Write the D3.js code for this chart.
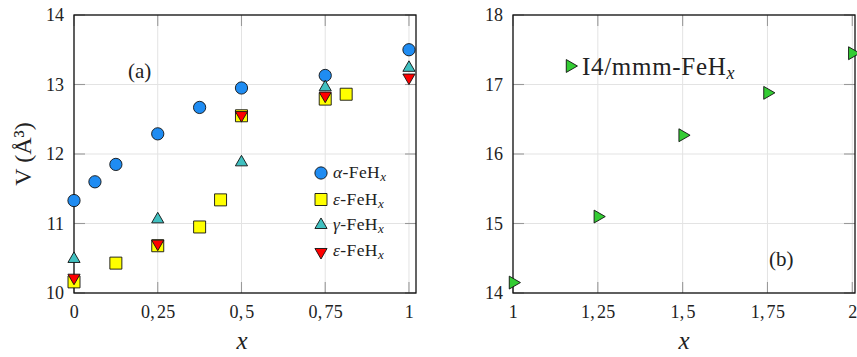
<!DOCTYPE html>
<html>
<head>
<meta charset="utf-8">
<script src="https://cdn.jsdelivr.net/npm/d3@7"></script>
<style>
  html, body { margin: 0; padding: 0; background: #fff; }
  svg { display: block; }
  svg text { font-family: "Liberation Serif", "DejaVu Serif", serif !important; }
</style>
</head>
<body>
<svg id="chart" width="857" height="357"></svg>
<script>
// ---- data ----
// panel (a): volume per Fe atom vs hydrogen content x
const alphaX = [0, 0.0625, 0.125, 0.25, 0.375, 0.5, 0.75, 1];
const alphaV = [11.33, 11.6, 11.85, 12.29, 12.67, 12.95, 13.13, 13.5];

const epsX = [0, 0.125, 0.25, 0.375, 0.4375, 0.5, 0.75, 0.8125];
const epsV = [10.16, 10.43, 10.68, 10.95, 11.34, 12.55, 12.79, 12.86];

const gammaX = [0, 0.25, 0.5, 0.75, 1];
const gammaV = [10.49, 11.06, 11.88, 12.96, 13.24];

const eps2X = [0, 0.25, 0.5, 0.75, 1];
const eps2V = [10.22, 10.71, 12.56, 12.84, 13.1];

// panel (b): I4/mmm phase
const i4X = [1, 1.25, 1.5, 1.75, 2];
const i4V = [14.15, 15.1, 16.27, 16.88, 17.45];

// axis ticks
const ticksXa = [0, 0.25, 0.5, 0.75, 1];
const tickLabelsXa = ["0", "0,\u200A25", "0,\u200A5", "0,\u200A75", "1"];
const ticksYa = [10, 11, 12, 13, 14];
const ticksXb = [1, 1.25, 1.5, 1.75, 2];
const tickLabelsXb = ["1", "1,\u200A25", "1,\u200A5", "1,\u200A75", "2"];
const ticksYb = [14, 15, 16, 17, 18];

// ---- layout ----
const svg = d3.select("#chart");
svg.append("rect").attr("width", 857).attr("height", 357).attr("fill", "#fff");

const plotTop = 15, plotBottom = 293;
const xA = d3.scaleLinear().domain([0, 1.021]).range([74, 416]);
const yA = d3.scaleLinear().domain([10, 14]).range([plotBottom, plotTop]);
const xB = d3.scaleLinear().domain([1, 2.008]).range([513, 855]);
const yB = d3.scaleLinear().domain([14, 18]).range([plotBottom, plotTop]);

const colors = {
  alpha: "#1f8cf2",
  eps: "#ffff00",
  gamma: "#40c0c0",
  eps2: "#ff0000",
  i4: "#33cc33"
};

// marker shapes
const sym = {
  circle: d3.symbol().type(d3.symbolCircle).size(118)(),
  square: d3.symbol().type(d3.symbolSquare).size(144)(),
  tri: d3.symbol().type(d3.symbolTriangle).size(64)(),
  triR: d3.symbol().type(d3.symbolTriangle).size(72)()
};

function drawFrame(g, x, y, xt, xl, yt) {
  const [x0, x1] = x.range();
  // grid
  g.selectAll(".gx").data(xt).join("line").attr("class", "gx")
    .attr("x1", d => x(d)).attr("x2", d => x(d))
    .attr("y1", plotTop).attr("y2", plotBottom)
    .attr("stroke", "#e3e3e3").attr("stroke-width", 1);
  g.selectAll(".gy").data(yt).join("line").attr("class", "gy")
    .attr("x1", x0).attr("x2", x1)
    .attr("y1", d => y(d)).attr("y2", d => y(d))
    .attr("stroke", "#e3e3e3").attr("stroke-width", 1);

  // inward ticks on all four sides
  const tl = 11, tc = "#9a9a9a";
  xt.forEach(d => {
    g.append("line").attr("x1", x(d)).attr("x2", x(d)).attr("y1", plotBottom).attr("y2", plotBottom - tl)
      .attr("stroke", tc).attr("stroke-width", 1.1);
    g.append("line").attr("x1", x(d)).attr("x2", x(d)).attr("y1", plotTop).attr("y2", plotTop + tl)
      .attr("stroke", tc).attr("stroke-width", 1.1);
  });
  yt.forEach(d => {
    g.append("line").attr("x1", x0).attr("x2", x0 + tl).attr("y1", y(d)).attr("y2", y(d))
      .attr("stroke", tc).attr("stroke-width", 1.1);
    g.append("line").attr("x1", x1).attr("x2", x1 - tl).attr("y1", y(d)).attr("y2", y(d))
      .attr("stroke", tc).attr("stroke-width", 1.1);
  });

  // tick labels via d3 axes
  const ax = g.append("g").attr("transform", `translate(0,${plotBottom})`)
    .call(d3.axisBottom(x).tickValues(xt).tickFormat((d, i) => xl[i]).tickSize(0).tickPadding(12));
  const ay = g.append("g").attr("transform", `translate(${x0},0)`)
    .call(d3.axisLeft(y).tickValues(yt).tickFormat(d3.format("d")).tickSize(0).tickPadding(10));
  [ax, ay].forEach(a => {
    a.select(".domain").remove();
    a.attr("font-family", null);
    a.selectAll("text").attr("font-size", 18).attr("fill", "#222");
  });
  ax.selectAll("text").attr("letter-spacing", 0.3);

  // box
  g.append("rect").attr("x", x0).attr("y", plotTop)
    .attr("width", x1 - x0).attr("height", plotBottom - plotTop)
    .attr("fill", "none").attr("stroke", "#111").attr("stroke-width", 1.3);
}

function drawSeries(g, xs, vs, x, y, path, fill, rot) {
  g.selectAll(null).data(xs).join("path")
    .attr("d", path)
    .attr("transform", (d, i) => `translate(${x(d)},${y(vs[i])}) rotate(${rot || 0})`)
    .attr("fill", fill).attr("stroke", "#111").attr("stroke-width", 0.9);
}

// ---- panel (a) ----
const gA = svg.append("g");
drawFrame(gA, xA, yA, ticksXa, tickLabelsXa, ticksYa);
const mA = svg.append("g");
drawSeries(mA, alphaX, alphaV, xA, yA, sym.circle, colors.alpha, 0);
drawSeries(mA, epsX, epsV, xA, yA, sym.square, colors.eps, 0);
drawSeries(mA, gammaX, gammaV, xA, yA, sym.tri, colors.gamma, 0);
drawSeries(mA, eps2X, eps2V, xA, yA, sym.tri, colors.eps2, 180);

svg.append("text").attr("x", 128).attr("y", 78).attr("font-size", 21).attr("fill", "#222").text("(a)");

// legend (a)
const legA = [
  { sym: sym.circle, fill: colors.alpha, rot: 0, g: "\u03B1" },
  { sym: sym.square, fill: colors.eps, rot: 0, g: "\u03B5" },
  { sym: sym.tri, fill: colors.gamma, rot: 0, g: "\u03B3" },
  { sym: sym.tri, fill: colors.eps2, rot: 180, g: "\u03B5" }
];
const legRows = [173, 199.5, 225, 251];
legA.forEach((d, i) => {
  const yy = legRows[i];
  svg.append("path").attr("d", d.sym)
    .attr("transform", `translate(321,${yy + (d.rot === 180 ? 1 : 0)}) rotate(${d.rot})`)
    .attr("fill", d.fill).attr("stroke", "#111").attr("stroke-width", 0.9);
  const t = svg.append("text").attr("x", 333).attr("y", yy + 5)
    .attr("font-size", 17.5).attr("letter-spacing", 0.4).attr("fill", "#222");
  t.append("tspan").attr("font-style", "italic").text(d.g);
  t.append("tspan").text("-FeH");
  t.append("tspan").attr("font-style", "italic").attr("font-size", 13).attr("dy", 3).text("x");
});

// ---- panel (b) ----
const gB = svg.append("g");
drawFrame(gB, xB, yB, ticksXb, tickLabelsXb, ticksYb);
const mB = svg.append("g");
drawSeries(mB, i4X, i4V, xB, yB, sym.triR, colors.i4, 90);

svg.append("text").attr("x", 769).attr("y", 266).attr("font-size", 21).attr("fill", "#222").text("(b)");

// legend (b)
svg.append("path").attr("d", sym.triR)
  .attr("transform", "translate(570,66) rotate(90)")
  .attr("fill", colors.i4).attr("stroke", "#111").attr("stroke-width", 0.9);
const tB = svg.append("text").attr("x", 582).attr("y", 75).attr("font-size", 25)
  .attr("letter-spacing", 0.7).attr("fill", "#222");
tB.append("tspan").text("I4/mmm-FeH");
tB.append("tspan").attr("font-style", "italic").attr("font-size", 18).attr("dy", 4).text("x");

// ---- axis titles ----
svg.append("text").attr("x", 242).attr("y", 349).attr("text-anchor", "middle")
  .attr("font-size", 25).attr("font-style", "italic").attr("fill", "#222").text("x");
svg.append("text").attr("x", 684).attr("y", 349).attr("text-anchor", "middle")
  .attr("font-size", 25).attr("font-style", "italic").attr("fill", "#222").text("x");
svg.append("text").attr("transform", "translate(31,154) rotate(-90)")
  .attr("text-anchor", "middle").attr("font-size", 24).attr("fill", "#222")
  .text("V (\u00C5\u00B3)");
</script>
</body>
</html>
